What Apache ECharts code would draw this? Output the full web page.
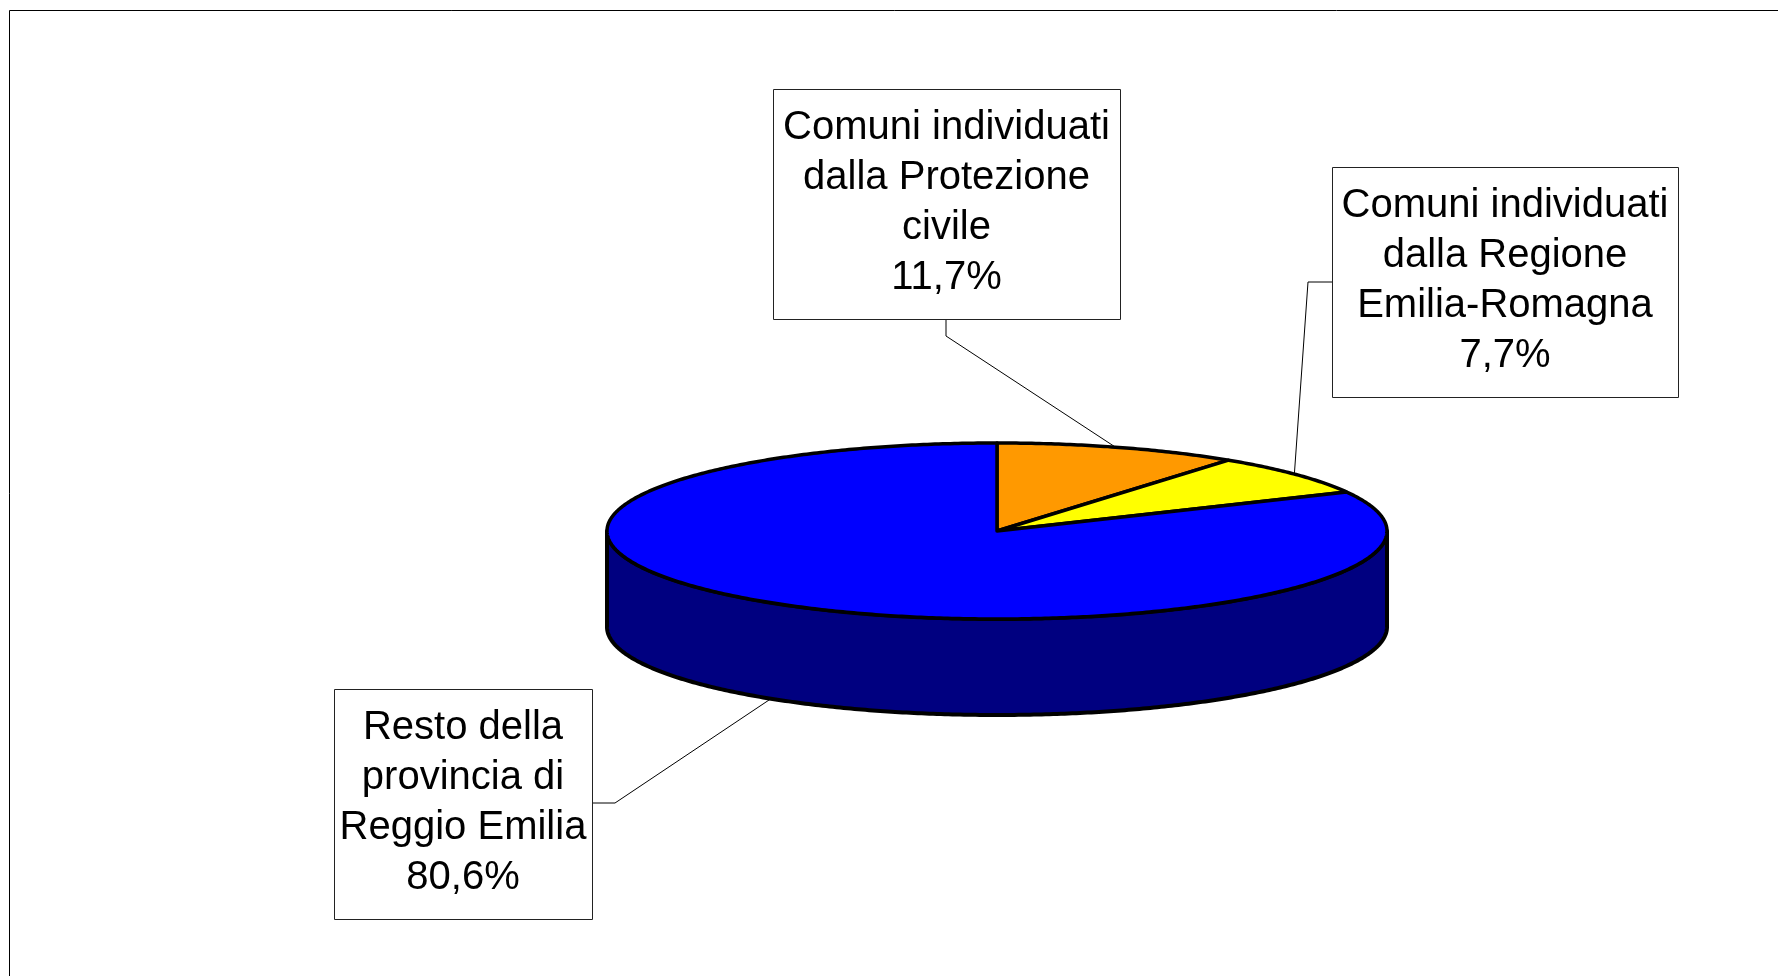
<!DOCTYPE html>
<html>
<head>
<meta charset="utf-8">
<script src="https://cdn.jsdelivr.net/npm/echarts@6/dist/echarts.min.js"></script>
<style>
  html, body { margin: 0; padding: 0; background: #ffffff; }
  #chart { width: 1778px; height: 976px; }
</style>
</head>
<body>
<div id="chart"></div>
<script>
// ---- data ----
const categories = [
  'Comuni individuati\ndalla Protezione\ncivile',
  'Comuni individuati\ndalla Regione\nEmilia-Romagna',
  'Resto della\nprovincia di\nReggio Emilia'
];
const values = [11.7, 7.7, 80.6];

// ---- styles / layout ----
const topColors = ['#FF9900', '#FFFF00', '#0000FF'];
const sideColors = ['#995C00', '#999900', '#000080'];
const PIE = { cx: 997, cy: 531, rx: 390, ry: 88, depth: 96, warp: 0.085 };
const labelLayout = [
  { box: [773, 89, 347, 230], anchor: [946, 319], elbow: [946, 336] },
  { box: [1332, 167, 346, 230], anchor: [1332, 282], elbow: [1308, 282] },
  { box: [334, 689, 258, 230], anchor: [592, 803], elbow: [615, 803] }
];
const FONT = '40px "Liberation Sans", Arial, sans-serif';

const total = values.reduce((a, b) => a + b, 0);
const cum = [0];
values.forEach((v, i) => cum.push(cum[i] + v));

// angle of slice boundary (true angle), starting at 12 o'clock, clockwise
function trueAngle(frac) { return Math.PI / 2 - 2 * Math.PI * frac; }
// perspective-like warp of slice angles onto the elliptical top
function warp(t) { return t + PIE.warp * Math.cos(t) * (1 + Math.sin(t)); }
function pt(phi, dy) {
  return [PIE.cx + PIE.rx * Math.cos(phi), PIE.cy - PIE.ry * Math.sin(phi) + (dy || 0)];
}
function arc(a, b, dy) {
  const n = Math.max(8, Math.ceil(Math.abs(b - a) / 0.01));
  const out = [];
  for (let k = 0; k <= n; k++) out.push(pt(a + (b - a) * k / n, dy));
  return out;
}
function sliceAngles(i) {
  const t0 = trueAngle(cum[i] / total);
  const t1 = trueAngle(cum[i + 1] / total);
  return { t0, t1, p0: warp(t0), p1: warp(t1) };
}
function fmtPct(v) { return (v / total * 100).toFixed(1).replace('.', ',') + '%'; }

const seriesData = values.map((v, i) => ({ value: v, name: categories[i] }));

function renderWall(params, api) {
  const i = params.dataIndex;
  const a = sliceAngles(i);
  const children = [];
  for (let k = -1; k <= 1; k++) {
    const lo = Math.max(a.p1 + 2 * Math.PI * k, -Math.PI);
    const hi = Math.min(a.p0 + 2 * Math.PI * k, 0);
    if (lo < hi) {
      const pts = arc(hi, lo, 0).concat(arc(lo, hi, PIE.depth));
      children.push({
        type: 'polygon',
        shape: { points: pts },
        style: { fill: sideColors[i], stroke: '#000', lineWidth: 4, lineJoin: 'round' },
        silent: true
      });
    }
  }
  return { type: 'group', children };
}

function renderTop(params, api) {
  const i = params.dataIndex;
  const a = sliceAngles(i);
  const pts = [[PIE.cx, PIE.cy]].concat(arc(a.p0, a.p1, 0));
  const children = [{
    type: 'polygon',
    shape: { points: pts },
    style: { fill: topColors[i], stroke: '#000', lineWidth: 3.5, lineJoin: 'round' },
    silent: true
  }];
  // leader line
  const tm = (a.t0 + a.t1) / 2;
  const pm = warp(tm);
  const norm = Math.atan2(Math.sin(pm), Math.cos(pm));
  const front = norm < 0 && norm > -Math.PI;
  const end = pt(norm, front ? PIE.depth : 0);
  const L = labelLayout[i];
  children.push({
    type: 'polyline',
    shape: { points: [L.anchor, L.elbow, end] },
    style: { stroke: '#000', lineWidth: 1, fill: null },
    silent: true
  });
  // label box
  const b = L.box;
  children.push({
    type: 'rect',
    shape: { x: b[0] + 0.5, y: b[1] + 0.5, width: b[2], height: b[3] },
    style: { fill: '#fff', stroke: '#222', lineWidth: 1 },
    silent: true
  });
  children.push({
    type: 'text',
    style: {
      text: categories[i] + '\n' + fmtPct(api.value(0)),
      x: b[0] + b[2] / 2,
      y: b[1] + b[3] / 2 - 1,
      align: 'center',
      verticalAlign: 'middle',
      font: FONT,
      lineHeight: 50,
      fill: '#000'
    },
    silent: true
  });
  return { type: 'group', children };
}

const chart = echarts.init(document.getElementById('chart'), null, { renderer: 'canvas' });
chart.setOption({
  backgroundColor: '#ffffff',
  animation: false,
  graphic: [{
    type: 'rect',
    shape: { x: 9.5, y: 10.5, width: 1800, height: 1000 },
    style: { fill: null, stroke: '#000', lineWidth: 1 },
    silent: true,
    z: 0
  }],
  series: [
    { type: 'custom', coordinateSystem: 'none', z: 2, silent: true, data: seriesData, renderItem: renderWall },
    { type: 'custom', coordinateSystem: 'none', z: 3, silent: true, data: seriesData, renderItem: renderTop }
  ]
});
</script>
</body>
</html>
